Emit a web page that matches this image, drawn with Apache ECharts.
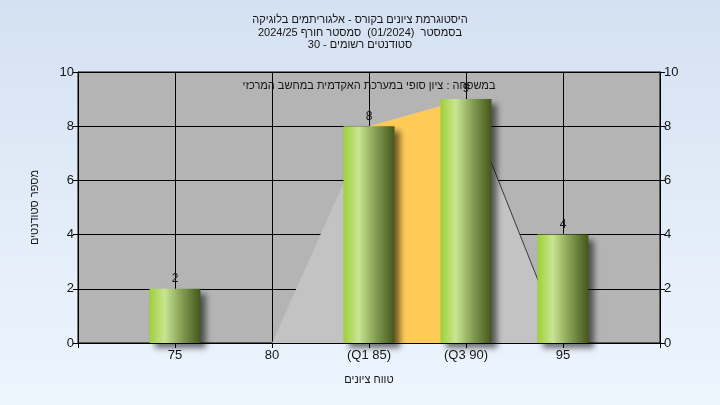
<!DOCTYPE html>
<html>
<head>
<meta charset="utf-8">
<script src="https://cdn.jsdelivr.net/npm/echarts@6/dist/echarts.min.js"></script>
<style>
html,body{margin:0;padding:0;}
#c{width:720px;height:405px;background:linear-gradient(to bottom,#d4e1f2 0%,#e3edf9 55%,#edf5fd 100%);}
</style>
</head>
<body>
<div id="c"></div>
<script>
// ---- data ----
const titleLines = [
  'היסטוגרמת ציונים בקורס - אלגוריתמים בלוגיקה',
  'בסמסטר  (01/2024)  סמסטר חורף 2024/25',
  'סטודנטים רשומים - 30'
];
const legendText = 'במשפחה : ציון סופי במערכת האקדמית במחשב המרכזי';
const xAxisName = 'טווח ציונים';
const yAxisName = 'מספר סטודנטים';
const binValues = [75, 80, 85, 90, 95];
const binCounts = [2, 0, 8, 9, 4];
const xTickValues = [75, 80, 85, 90, 95];
const xTickLabels = ['75', '80', '(Q1 85)', '(Q3 90)', '95'];
const polygonX = [80, 85, 90, 95];
const polygonY = [0, 8, 9, 0];
const iqrX = [85, 90];
const iqrY = [8, 9];
const tailX = [90, 95];
const tailY = [9, 0];

const FONT = 'Liberation Sans';
const TXT = '#151515';

const pairs = (xs, ys) => xs.map((x, i) => [x, ys[i]]);

const chart = echarts.init(document.getElementById('c'), null, {renderer: 'canvas'});
const yAxisCommon = {
  type: 'value', min: 0, max: 10, interval: 2,
  axisLine: {show: true, lineStyle: {color: '#000', width: 1}},
  axisTick: {show: true, length: 5, lineStyle: {color: '#000'}},
  axisLabel: {color: TXT, fontFamily: FONT, fontSize: 13, margin: 4},
  splitLine: {show: false}
};
chart.setOption({
  animation: false,
  title: {
    text: titleLines.join('\n'),
    left: 'center', top: 9,
    textStyle: {fontFamily: FONT, fontSize: 11, fontWeight: 'normal', color: TXT, lineHeight: 12.5}
  },
  graphic: [{
    type: 'text', x: 369, y: 86, z: 100,
    style: {text: legendText, fontFamily: FONT, fontSize: 11, fill: TXT, textAlign: 'center', textVerticalAlign: 'middle'}
  }],
  grid: {left: 78, right: 60, top: 72, bottom: 62, show: true, backgroundColor: '#b4b4b4', borderColor: '#000', borderWidth: 1},
  xAxis: {
    type: 'value', min: 70, max: 100, interval: 5,
    name: xAxisName, nameLocation: 'middle', nameGap: 31,
    nameTextStyle: {fontFamily: FONT, fontSize: 11, color: TXT},
    axisLine: {show: true, onZero: false, lineStyle: {color: '#000', width: 1}},
    axisTick: {show: true, length: 5, lineStyle: {color: '#000'}},
    axisLabel: {
      color: TXT, fontFamily: FONT, fontSize: 13, margin: 6,
      formatter: v => { const i = xTickValues.indexOf(v); return i >= 0 ? xTickLabels[i] : ''; }
    },
    splitLine: {show: true, lineStyle: {color: '#000', width: 1}}
  },
  yAxis: [
    Object.assign({}, yAxisCommon, {
      position: 'left', name: yAxisName, nameLocation: 'middle', nameGap: 38,
      nameTextStyle: {fontFamily: FONT, fontSize: 11, color: TXT},
      splitLine: {show: true, lineStyle: {color: '#000', width: 1}}
    }),
    Object.assign({}, yAxisCommon, {position: 'right'})
  ],
  series: [
    {
      type: 'line', data: pairs(polygonX, polygonY), showSymbol: false, z: 1,
      lineStyle: {width: 0, opacity: 0},
      areaStyle: {color: '#c3c3c3', opacity: 1}, silent: true
    },
    {
      type: 'line', data: pairs(iqrX, iqrY), showSymbol: false, z: 2,
      lineStyle: {width: 0, opacity: 0},
      areaStyle: {color: '#ffcb58', opacity: 1}, silent: true
    },
    {
      type: 'line', data: pairs(tailX, tailY), showSymbol: false, z: 3,
      lineStyle: {width: 1, color: '#3a3a3a'}, silent: true
    },
    {
      type: 'bar', data: pairs(binValues, binCounts), barWidth: 51, z: 5,
      itemStyle: {
        color: new echarts.graphic.LinearGradient(0, 0, 1, 0, [
          {offset: 0, color: '#9fcf3a'},
          {offset: 0.3, color: '#c9e591'},
          {offset: 0.6, color: '#8aa458'},
          {offset: 1, color: '#43571b'}
        ]),
        shadowColor: 'rgba(0,0,0,0.55)', shadowBlur: 6, shadowOffsetX: 5, shadowOffsetY: 5
      },
      label: {
        show: true, position: 'top', distance: 4, color: TXT, fontFamily: FONT, fontSize: 12,
        formatter: p => (p.value[1] ? String(p.value[1]) : '')
      }
    }
  ]
});
</script>
</body>
</html>
